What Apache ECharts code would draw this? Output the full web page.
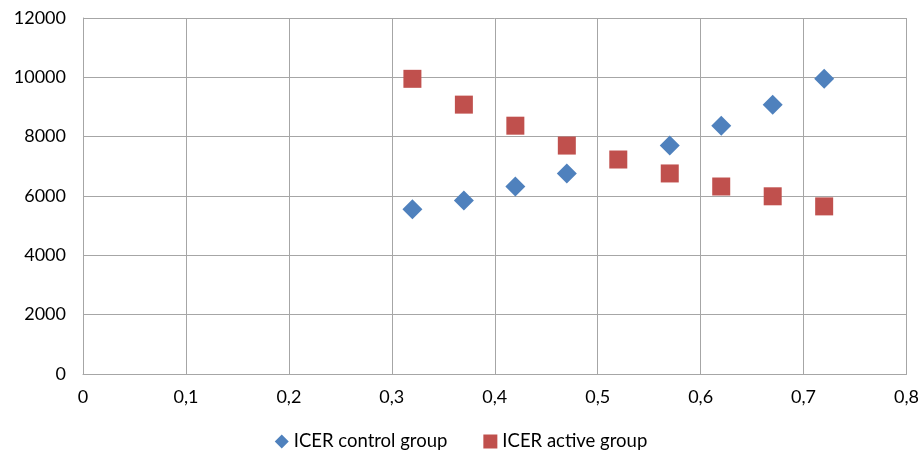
<!DOCTYPE html>
<html><head><meta charset="utf-8">
<script src="https://cdn.jsdelivr.net/npm/echarts@6/dist/echarts.min.js"></script>
<style>html,body{margin:0;padding:0;background:#fff}#c{width:922px;height:457px}</style>
</head><body><div id="c"></div>
<script>
const xValues = [0.32, 0.37, 0.42, 0.47, 0.52, 0.57, 0.62, 0.67, 0.72];
// control point at 0.52 is hidden behind the active square in the reference
const controlGroup = [5550, 5850, 6320, 6760, null, 7700, 8370, 9080, 9950];
const activeGroup = [9950, 9080, 8370, 7700, 7230, 6760, 6320, 5990, 5650];
const seriesNames = ['ICER control group', 'ICER active group'];

const chart = echarts.init(document.getElementById('c'));
const font = 'Lato, "Open Sans", sans-serif';
const pairs = (ys) => xValues.map((x, i) => [x, ys[i]]).filter(p => p[1] !== null);
chart.setOption({
  animation: false,
  grid: {left: 83, right: 15, top: 18, bottom: 83},
  legend: {
    bottom: 1, left: 'center', itemGap: 36, itemWidth: 14, itemHeight: 14,
    textStyle: {fontFamily: font, fontSize: 18.5, color: '#000'},
    data: [{name: seriesNames[0], icon: 'diamond'}, {name: seriesNames[1], icon: 'rect'}]
  },
  xAxis: {
    type: 'value', min: 0, max: 0.8, interval: 0.1,
    axisLine: {show: true, lineStyle: {color: '#a6a6a6'}},
    axisTick: {show: false},
    splitLine: {show: true, lineStyle: {color: '#a6a6a6', width: 1}},
    axisLabel: {fontFamily: font, fontSize: 18, color: '#000', margin: 14,
      formatter: v => String(Math.round(v * 10) / 10).replace('.', ',')}
  },
  yAxis: {
    type: 'value', min: 0, max: 12000, interval: 2000,
    axisLine: {show: true, lineStyle: {color: '#a6a6a6'}},
    axisTick: {show: false},
    splitLine: {show: true, lineStyle: {color: '#a6a6a6', width: 1}},
    axisLabel: {fontFamily: font, fontSize: 18, color: '#000', margin: 17,
      formatter: v => String(v)}
  },
  series: [
    {name: seriesNames[0], type: 'scatter', symbol: 'diamond', symbolSize: 20,
     itemStyle: {color: '#4f81bd', opacity: 1},
     data: pairs(controlGroup)},
    {name: seriesNames[1], type: 'scatter', symbol: 'rect', symbolSize: 18,
     itemStyle: {color: '#c0504d', opacity: 1},
     data: pairs(activeGroup)}
  ]
});
</script></body></html>
